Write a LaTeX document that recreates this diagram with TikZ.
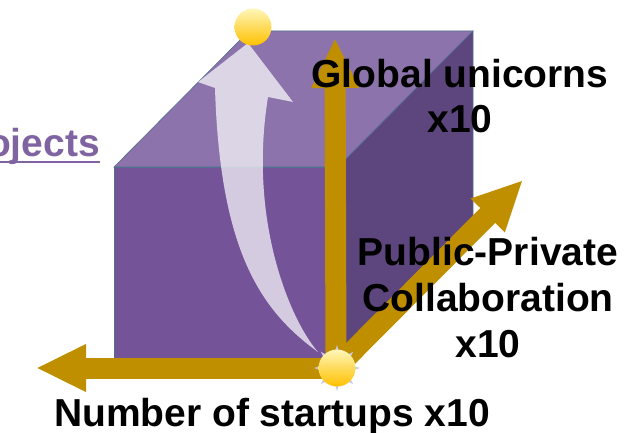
\documentclass[tikz,border=0pt]{standalone}
\usepackage{fontspec}
\setmainfont{Liberation Sans}
\usetikzlibrary{arrows.meta,shapes.geometric}
\definecolor{frontc}{HTML}{745399}
\definecolor{topc}{HTML}{8C73AC}
\definecolor{sidec}{HTML}{5D457D}
\definecolor{edgec}{HTML}{50708F}
\definecolor{goldc}{HTML}{BF8F00}
\definecolor{linkc}{HTML}{8064A2}
\definecolor{ballhi}{HTML}{FFF6B8}
\definecolor{balllo}{HTML}{FFC000}
\definecolor{starc}{HTML}{C8C8EC}
\begin{document}
\begin{tikzpicture}[x=1pt,y=-1pt,
  cubeface/.style={draw=edgec,line width=0.6pt},
  goldaxis/.style={draw=goldc,line width=21pt,-{Triangle[width=44pt,length=50pt]}},
  sunball/.style={circle,minimum size=37pt,inner sep=0pt,top color=ballhi,bottom color=balllo},
  bigtext/.style={font=\bfseries\fontsize{39}{46}\selectfont,align=center,inner sep=0pt}]
\useasboundingbox (0,0) rectangle (629,433);
\clip (0,0) rectangle (629,433);
% cube
\fill[topc,cubeface] (114,167) -- (249,31) -- (473,31) -- (338,167) -- cycle;
\fill[sidec,cubeface] (338,167) -- (473,31) -- (473,222) -- (338,358) -- cycle;
\fill[frontc,cubeface] (114,167) rectangle (338,358);
% curved translucent arrow
\fill[white,fill opacity=0.7] (318,352) .. controls (260,310) and (220,250) .. (215,88)
  -- (198,82) -- (248,43) -- (293,102) -- (268,97)
  .. controls (248,220) and (290,320) .. (318,352) -- cycle;
% axes
\coordinate (O) at (336,368);
\coordinate (X) at (36,368);
\coordinate (Y) at (335,38);
\coordinate (Z) at (523,180);
\draw[goldaxis] (O) -- (X);
\draw[goldaxis] (O) -- (Y);
\draw[goldaxis] (O) -- (Z);
% balls
\node[star,star points=8,star point ratio=2.2,minimum size=46pt,inner sep=0pt,fill=starc] (spark) at (337,368) {};
\node[sunball] (b0) at (337,368) {};
\node[sunball] (b1) at (253,27) {};
% texts
\node[bigtext,anchor=base] (gu) at (460,133) {Global unicorns\\x10};
\node[bigtext,anchor=base] (pp) at (488,357) {Public-Private\\Collaboration\\x10};
\node[bigtext,anchor=base] (ns) at (272,426) {Number of startups x10};
\node[bigtext,anchor=base east,text=linkc] (obj) at (100,157) {ojects};
\draw[linkc,line width=1.8pt] ([yshift=-5pt]obj.base west) -- ([yshift=-5pt]obj.base east);
\end{tikzpicture}
\end{document}
